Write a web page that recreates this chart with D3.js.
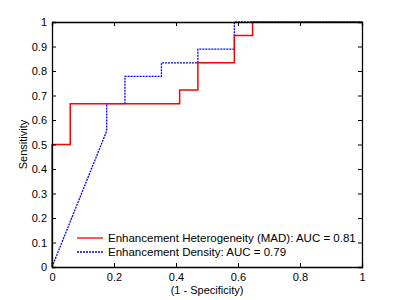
<!DOCTYPE html>
<html>
<head>
<meta charset="utf-8">
<script src="https://cdn.jsdelivr.net/npm/d3@7"></script>
<style>
  body { margin: 0; background: #fff; }
  svg { display: block; font-family: "Liberation Sans", Arial, sans-serif; }
</style>
</head>
<body>
<div id="chart"></div>
<script>
// ROC curves, x = 1 - specificity, y = sensitivity
let madX = [0, 0, 1/17, 1/17, 7/17, 7/17, 8/17, 8/17, 10/17, 10/17, 11/17, 11/17, 1]
let madY = [0, 0.5, 0.5, 2/3, 2/3, 13/18, 13/18, 5/6, 5/6, 17/18, 17/18, 1, 1]
let densX = [0, 3/17, 3/17, 4/17, 4/17, 6/17, 6/17, 8/17, 8/17, 10/17, 10/17, 1]
let densY = [0, 5/9, 2/3, 2/3, 7/9, 7/9, 5/6, 5/6, 8/9, 8/9, 1, 1]
let xTicks = [0, 0.2, 0.4, 0.6, 0.8, 1]
let yTicks = [0, 0.1, 0.2, 0.3, 0.4, 0.5, 0.6, 0.7, 0.8, 0.9, 1]
let legendLabels = ['Enhancement Heterogeneity (MAD): AUC = 0.81', 'Enhancement Density: AUC = 0.79']

let margin = {left: 52, top: 22, right: 38, bottom: 33}
let width = 400, height = 300
let svg = d3.select('#chart').append('svg').attr('width', width).attr('height', height)

let x = d3.scaleLinear().domain([0, 1]).range([margin.left, width - margin.right])
let y = d3.scaleLinear().domain([0, 1]).range([height - margin.bottom, margin.top])

let fmt = d => d === 0 || d === 1 ? String(d) : d3.format('.1f')(d)

let line = d3.line().x(d => x(d[0])).y(d => y(d[1]))

svg.append('path')
    .datum(densX.map((v, i) => [v, densY[i]]))
    .attr('d', line).attr('fill', 'none')
    .attr('stroke', '#0000ff').attr('stroke-width', 1.3).attr('stroke-dasharray', '2,1')

svg.append('path')
    .datum(madX.map((v, i) => [v, madY[i]]))
    .attr('d', line).attr('fill', 'none')
    .attr('stroke', '#ff0000').attr('stroke-width', 1.5)

// axes drawn over the curves, inward ticks, matlab style box
svg.append('g').attr('transform', `translate(0,${y(0)})`)
    .call(d3.axisBottom(x).tickValues(xTicks).tickSize(-4).tickPadding(6).tickFormat(fmt))
svg.append('g').attr('transform', `translate(0,${y(1)})`)
    .call(d3.axisTop(x).tickValues(xTicks).tickSize(-4).tickFormat(''))
svg.append('g').attr('transform', `translate(${x(0)},0)`)
    .call(d3.axisLeft(y).tickValues(yTicks).tickSize(-4).tickPadding(5).tickFormat(fmt))
svg.append('g').attr('transform', `translate(${x(1)},0)`)
    .call(d3.axisRight(y).tickValues(yTicks).tickSize(-4).tickFormat(''))

svg.selectAll('.domain').attr('stroke', '#000').attr('stroke-width', 1.3)
svg.selectAll('.tick line').attr('stroke', '#000')
svg.selectAll('.tick text').attr('font-size', 11).attr('fill', '#000')
    .attr('font-family', '"Liberation Sans", Arial, sans-serif')

// legend
let leg = svg.append('g')
let styles = [{c: '#ff0000', dash: null}, {c: '#0000ff', dash: '2,1'}]
legendLabels.forEach((lab, i) => {
    let ly = 238 + i * 14
    leg.append('line').attr('x1', 77).attr('x2', 103).attr('y1', ly).attr('y2', ly)
        .attr('stroke', styles[i].c).attr('stroke-width', 1.3)
        .attr('stroke-dasharray', styles[i].dash)
    leg.append('text').attr('x', 108).attr('y', ly + 4).attr('font-size', 11.5).text(lab)
})

svg.append('text').attr('x', (x(0) + x(1)) / 2).attr('y', 294)
    .attr('text-anchor', 'middle').attr('font-size', 11).text('(1 - Specificity)')
svg.append('text')
    .attr('transform', `translate(27,${(y(0) + y(1)) / 2}) rotate(-90)`)
    .attr('text-anchor', 'middle').attr('font-size', 11).text('Sensitivity')
</script>
</body>
</html>
